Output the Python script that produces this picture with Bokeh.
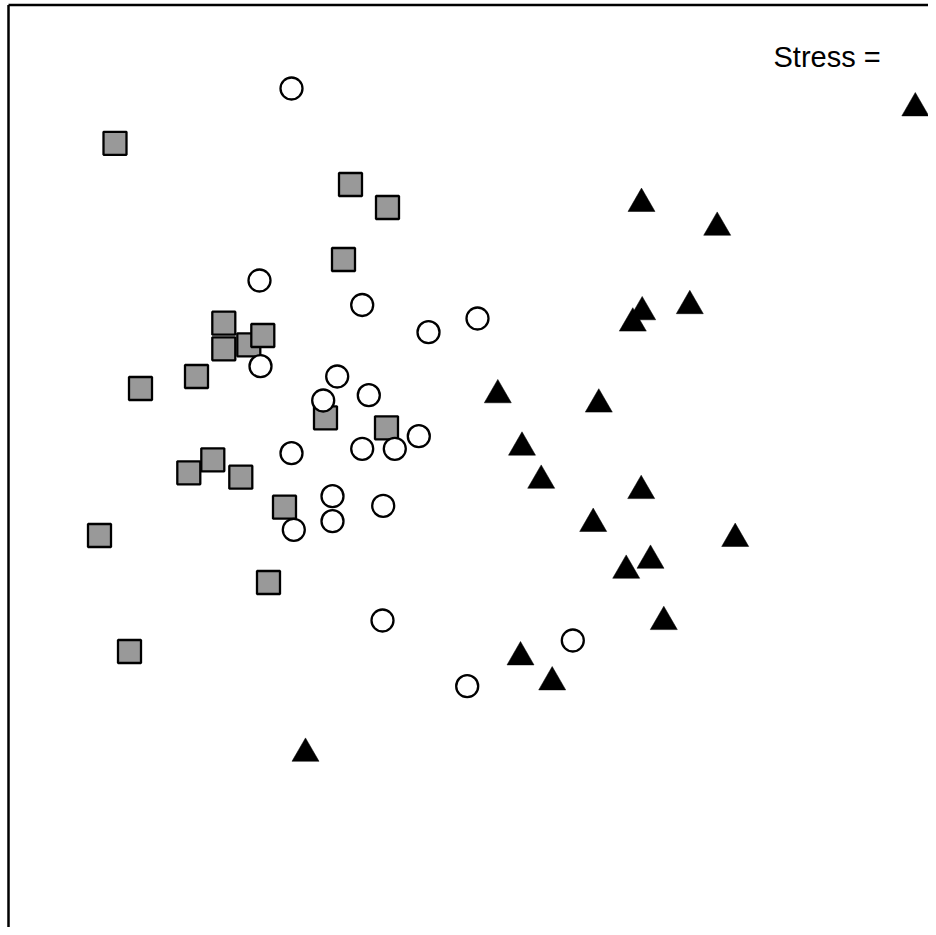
from bokeh.plotting import figure
from bokeh.models import Range1d, ColumnDataSource
from bokeh.core.properties import value
from bokeh.embed import file_html
from bokeh.resources import INLINE

# NMDS ordination scores (plot units; y grows downward)
square_x = [114.5, 350, 387, 343, 223.3, 223.3, 248.3, 262.3, 140, 196, 325, 386,
            212.3, 188.3, 240.3, 284, 99, 268, 129]
square_y = [142.8, 184, 207, 259, 322.7, 348.3, 344.3, 335, 388, 376, 417.3, 427.3,
            459.3, 472.3, 476.7, 506.7, 535, 582, 651]

circle_x = [291, 259, 361.7, 428, 477, 260, 336.7, 368.3, 322.7, 291, 361.7, 394.3,
            418.3, 332, 332, 382.7, 293.3, 382, 572.3, 466.7]
circle_y = [88, 280, 304.5, 331.7, 318, 365.7, 376, 394.7, 400, 452.7, 448.3, 448.3,
            435.7, 495.7, 520.7, 505.3, 529.3, 620, 640, 685.7]

triangle_x = [914.8, 641, 716.7, 641.7, 632.3, 689.3, 497.3, 598.3, 521.5, 540.7,
              640.7, 592.7, 734.7, 650, 625.7, 663.3, 520, 551.7, 305]
triangle_y = [107.6, 203.2, 227, 311.5, 322.8, 305.4, 394.5, 403.8, 446.9, 480,
              490.3, 523.2, 538.2, 560, 570, 621.3, 656.6, 681.6, 753]

stress_label = "Stress ="

# plot box (left and top edges visible; right and bottom run off the page)
box_left, box_top, box_right, box_bottom = 8, 4.5, 940, 940

p = figure(width=928, height=927, output_backend="svg", toolbar_location=None,
           x_range=Range1d(0, 928), y_range=Range1d(927, 0),
           x_axis_location=None, y_axis_location=None, min_border=0)
p.grid.visible = False
p.outline_line_color = None
p.background_fill_color = "white"
p.border_fill_color = "white"

p.segment(x0=[box_left, box_left], y0=[box_top, box_top],
          x1=[box_left, box_right], y1=[box_bottom, box_top],
          line_color="black", line_width=2.5)

p.scatter(square_x, square_y, marker="square", size=23, fill_color="#999999",
          line_color="black", line_width=2.3)
p.scatter(circle_x, circle_y, marker="circle", size=22, fill_color="white",
          line_color="black", line_width=2.3)
p.scatter(triangle_x, triangle_y, marker="triangle", size=27, fill_color="black",
          line_color="black", line_width=0.5)

src = ColumnDataSource(dict(x=[773], y=[56.7], t=[stress_label]))
p.text(x="x", y="y", text="t", source=src, text_font=value("Liberation Sans"),
       text_font_size="29px", text_color="black", text_baseline="alphabetic",
       text_align="left")

open("out.html", "w").write(file_html(p, INLINE))
